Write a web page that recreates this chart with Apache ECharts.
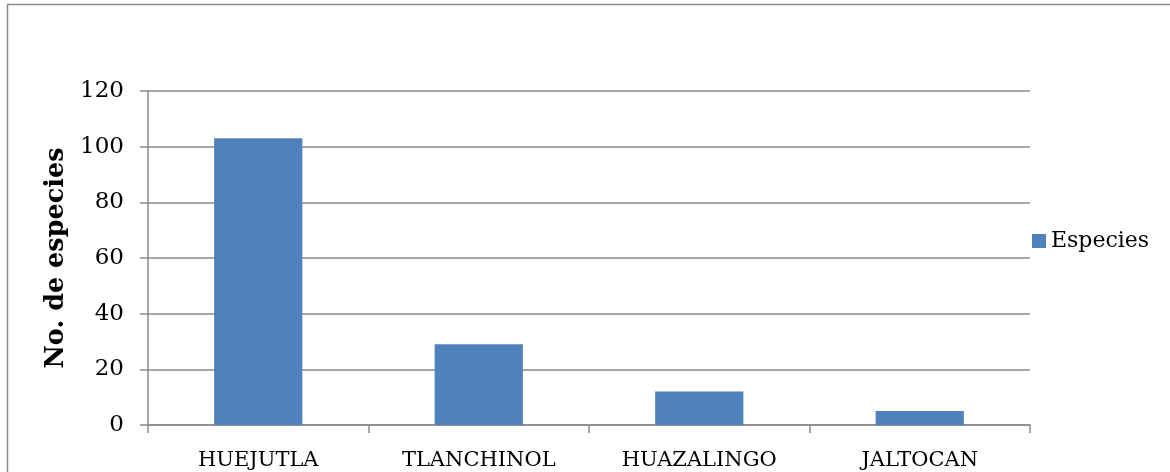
<!DOCTYPE html>
<html>
<head>
<meta charset="utf-8">
<script src="https://cdn.jsdelivr.net/npm/echarts@6/dist/echarts.min.js"></script>
<style>
  html, body { margin: 0; padding: 0; background: #fff; }
  #chart { width: 1170px; height: 472px; }
</style>
</head>
<body>
<div id="chart"></div>
<script>
const categories = ['HUEJUTLA', 'TLANCHINOL', 'HUAZALINGO', 'JALTOCAN'];
const especies = [103, 29, 12, 5];
const seriesName = 'Especies';
const yAxisTitle = 'No. de especies';

const FONT = '"DejaVu Serif", "Liberation Serif", serif';
const GRAY = '#8a8a8a';

const chart = echarts.init(document.getElementById('chart'));

const option = {
  animation: false,
  backgroundColor: '#fff',
  graphic: [{
    type: 'rect',
    shape: { x: 7.5, y: 4.5, width: 1200, height: 520 },
    style: { fill: 'none', stroke: GRAY, lineWidth: 1.5 },
    silent: true
  }],
  grid: { left: 148, right: 140, top: 91, bottom: 47 },
  legend: {
    data: [seriesName],
    left: 1027,
    top: 225,
    orient: 'vertical',
    itemWidth: 14,
    itemHeight: 14,
    icon: 'rect',
    textStyle: { fontFamily: FONT, fontSize: 22, color: '#000' }
  },
  xAxis: {
    type: 'category',
    data: categories,
    axisLine: { lineStyle: { color: GRAY, width: 1.5 } },
    axisTick: { show: true, length: 8, lineStyle: { color: GRAY, width: 1.5 } },
    axisLabel: { fontFamily: FONT, fontSize: 21, color: '#000', margin: 25 }
  },
  yAxis: {
    type: 'value',
    min: 0,
    max: 120,
    interval: 20,
    name: yAxisTitle,
    nameLocation: 'middle',
    nameGap: 76,
    nameTextStyle: { fontFamily: FONT, fontSize: 25.5, fontWeight: 'bold', color: '#000' },
    axisLine: { show: true, lineStyle: { color: GRAY, width: 1.5 } },
    axisTick: { show: true, length: 8, lineStyle: { color: GRAY, width: 1.5 } },
    splitLine: { lineStyle: { color: GRAY, width: 1.5 } },
    axisLabel: { fontFamily: FONT, fontSize: 23, color: '#000', margin: 24 }
  },
  series: [{
    name: seriesName,
    type: 'bar',
    data: especies,
    barWidth: '40%',
    itemStyle: { color: '#4f81bd' }
  }]
};

chart.setOption(option);
</script>
</body>
</html>
